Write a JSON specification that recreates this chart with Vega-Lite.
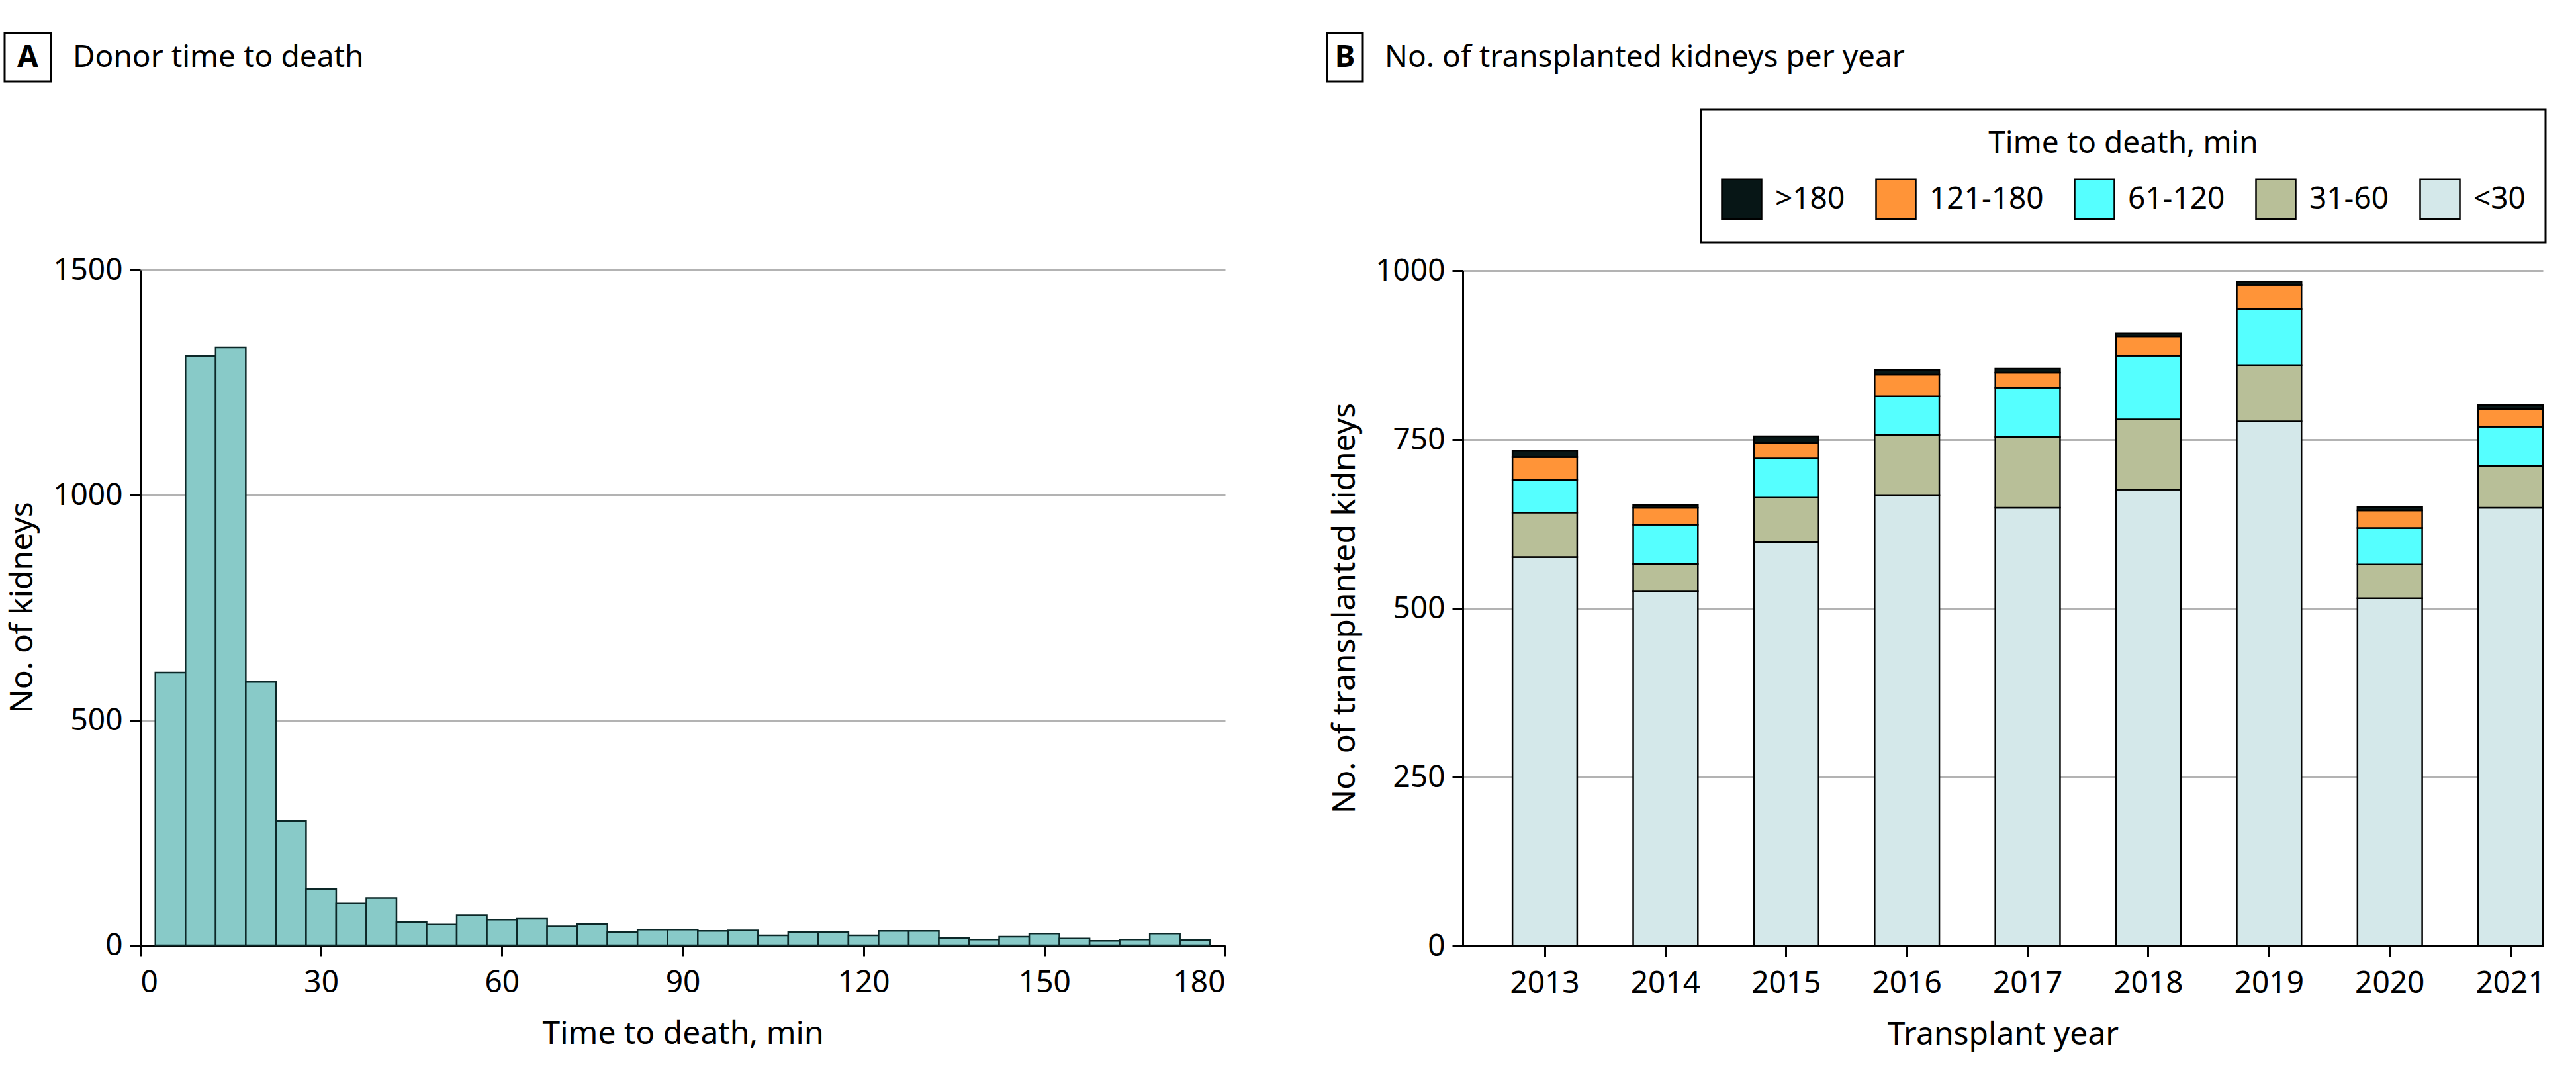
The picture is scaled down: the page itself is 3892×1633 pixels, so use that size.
{
  "$schema": "https://vega.github.io/schema/vega-lite/v6.json",
  "padding": {"left": 5, "top": 48, "right": 5, "bottom": 5},
  "background": "white",
  "config": {
    "font": "Noto Sans",
    "view": {"stroke": null},
    "axis": {
      "labelFont": "Noto Sans", "labelFontSize": 46, "labelColor": "black",
      "titleFont": "Noto Sans", "titleFontSize": 48, "titleFontWeight": "normal", "titleColor": "black",
      "domainColor": "black", "domainWidth": 3, "tickColor": "black", "tickWidth": 3, "tickSize": 16,
      "labelPadding": 11, "gridColor": "#b3b3b3", "gridWidth": 3, "grid": false
    },
    "axisX": {"labelPadding": 18}
  },
  "spacing": 150,
  "resolve": {"scale": {"color": "independent"}, "legend": {"color": "independent"}},
  "hconcat": [
    {
      "spacing": 260,
      "resolve": {"scale": {"color": "independent"}, "legend": {"color": "independent"}},
      "vconcat": [
        {
          "spacing": 26,
          "hconcat": [
            {
              "width": 70, "height": 73,
              "view": {"stroke": "black", "strokeWidth": 3},
              "data": {"values": [{"label": "A"}]},
              "mark": {"type": "text", "fontSize": 46, "fontWeight": "bold", "font": "Noto Sans", "color": "black", "baseline": "middle", "align": "center"},
              "encoding": {"text": {"field": "label", "type": "nominal"}}
            },
            {
              "width": 10, "height": 73,
              "data": {"values": [{"label": "Donor time to death"}]},
              "mark": {"type": "text", "fontSize": 46, "font": "Noto Sans", "color": "black", "baseline": "middle", "align": "left"},
              "encoding": {"text": {"field": "label", "type": "nominal"}}
            }
          ]
        },
        {
          "spacing": 16,
          "hconcat": [
            {
              "width": 56, "height": 1020,
              "data": {"values": [{"label": "No. of kidneys"}]},
              "mark": {"type": "text", "fontSize": 48, "font": "Noto Sans", "color": "black", "baseline": "middle", "align": "center", "angle": 270},
              "encoding": {"text": {"field": "label", "type": "nominal"}}
            },
            {
              "width": 1639, "height": 1020,
              "data": {"values": [
                {"start": 2.5, "end": 7.5, "count": 606},
                {"start": 7.5, "end": 12.5, "count": 1309},
                {"start": 12.5, "end": 17.5, "count": 1328},
                {"start": 17.5, "end": 22.5, "count": 585},
                {"start": 22.5, "end": 27.5, "count": 276},
                {"start": 27.5, "end": 32.5, "count": 125},
                {"start": 32.5, "end": 37.5, "count": 93},
                {"start": 37.5, "end": 42.5, "count": 105},
                {"start": 42.5, "end": 47.5, "count": 51},
                {"start": 47.5, "end": 52.5, "count": 46},
                {"start": 52.5, "end": 57.5, "count": 67},
                {"start": 57.5, "end": 62.5, "count": 57},
                {"start": 62.5, "end": 67.5, "count": 59},
                {"start": 67.5, "end": 72.5, "count": 42},
                {"start": 72.5, "end": 77.5, "count": 47},
                {"start": 77.5, "end": 82.5, "count": 29},
                {"start": 82.5, "end": 87.5, "count": 35},
                {"start": 87.5, "end": 92.5, "count": 35},
                {"start": 92.5, "end": 97.5, "count": 32},
                {"start": 97.5, "end": 102.5, "count": 33},
                {"start": 102.5, "end": 107.5, "count": 22},
                {"start": 107.5, "end": 112.5, "count": 29},
                {"start": 112.5, "end": 117.5, "count": 29},
                {"start": 117.5, "end": 122.5, "count": 22},
                {"start": 122.5, "end": 127.5, "count": 32},
                {"start": 127.5, "end": 132.5, "count": 32},
                {"start": 132.5, "end": 137.5, "count": 16},
                {"start": 137.5, "end": 142.5, "count": 13},
                {"start": 142.5, "end": 147.5, "count": 19},
                {"start": 147.5, "end": 152.5, "count": 26},
                {"start": 152.5, "end": 157.5, "count": 15},
                {"start": 157.5, "end": 162.5, "count": 10},
                {"start": 162.5, "end": 167.5, "count": 13},
                {"start": 167.5, "end": 172.5, "count": 26},
                {"start": 172.5, "end": 177.5, "count": 12}
              ]},
              "mark": {"type": "bar", "fill": "#88CAC8", "stroke": "#0c2828", "strokeWidth": 2.5},
              "encoding": {
                "x": {"field": "start", "type": "quantitative", "scale": {"domain": [0, 180], "nice": false, "zero": false},
                      "axis": {"values": [0, 30, 60, 90, 120, 150, 180], "title": "Time to death, min", "titlePadding": 31}},
                "x2": {"field": "end"},
                "y": {"field": "count", "type": "quantitative", "scale": {"domain": [0, 1500]},
                      "axis": {"values": [0, 500, 1000, 1500], "format": "d", "title": null, "grid": true}},
                "y2": {"datum": 0}
              }
            }
          ]
        }
      ]
    },
    {
      "spacing": 38,
      "resolve": {"scale": {"color": "independent"}, "legend": {"color": "independent"}},
      "vconcat": [
        {
          "spacing": 26,
          "hconcat": [
            {
              "width": 54, "height": 73,
              "view": {"stroke": "black", "strokeWidth": 3},
              "data": {"values": [{"label": "B"}]},
              "mark": {"type": "text", "fontSize": 46, "fontWeight": "bold", "font": "Noto Sans", "color": "black", "baseline": "middle", "align": "center"},
              "encoding": {"text": {"field": "label", "type": "nominal"}}
            },
            {
              "width": 10, "height": 73,
              "data": {"values": [{"label": "No. of transplanted kidneys per year"}]},
              "mark": {"type": "text", "fontSize": 46, "font": "Noto Sans", "color": "black", "baseline": "middle", "align": "left"},
              "encoding": {"text": {"field": "label", "type": "nominal"}}
            }
          ]
        },
        {
          "spacing": 16,
          "resolve": {"scale": {"color": "independent"}, "legend": {"color": "independent"}},
          "hconcat": [
            {
              "width": 56, "height": 1020,
              "data": {"values": [{"label": "No. of transplanted kidneys"}]},
              "mark": {"type": "text", "fontSize": 48, "font": "Noto Sans", "color": "black", "baseline": "middle", "align": "center", "angle": 270},
              "encoding": {"text": {"field": "label", "type": "nominal"}}
            },
            {
              "width": 1632, "height": 1020,
              "data": {"values": [
                {"year": "2013", "cat": "<30", "ord": 1, "n": 576},
                {"year": "2013", "cat": "31-60", "ord": 2, "n": 66},
                {"year": "2013", "cat": "61-120", "ord": 3, "n": 48},
                {"year": "2013", "cat": "121-180", "ord": 4, "n": 34},
                {"year": "2013", "cat": ">180", "ord": 5, "n": 9},
                {"year": "2014", "cat": "<30", "ord": 1, "n": 525},
                {"year": "2014", "cat": "31-60", "ord": 2, "n": 41},
                {"year": "2014", "cat": "61-120", "ord": 3, "n": 58},
                {"year": "2014", "cat": "121-180", "ord": 4, "n": 25},
                {"year": "2014", "cat": ">180", "ord": 5, "n": 4},
                {"year": "2015", "cat": "<30", "ord": 1, "n": 598},
                {"year": "2015", "cat": "31-60", "ord": 2, "n": 66},
                {"year": "2015", "cat": "61-120", "ord": 3, "n": 58},
                {"year": "2015", "cat": "121-180", "ord": 4, "n": 23},
                {"year": "2015", "cat": ">180", "ord": 5, "n": 10},
                {"year": "2016", "cat": "<30", "ord": 1, "n": 667},
                {"year": "2016", "cat": "31-60", "ord": 2, "n": 90},
                {"year": "2016", "cat": "61-120", "ord": 3, "n": 57},
                {"year": "2016", "cat": "121-180", "ord": 4, "n": 32},
                {"year": "2016", "cat": ">180", "ord": 5, "n": 7},
                {"year": "2017", "cat": "<30", "ord": 1, "n": 649},
                {"year": "2017", "cat": "31-60", "ord": 2, "n": 105},
                {"year": "2017", "cat": "61-120", "ord": 3, "n": 73},
                {"year": "2017", "cat": "121-180", "ord": 4, "n": 22},
                {"year": "2017", "cat": ">180", "ord": 5, "n": 6},
                {"year": "2018", "cat": "<30", "ord": 1, "n": 676},
                {"year": "2018", "cat": "31-60", "ord": 2, "n": 104},
                {"year": "2018", "cat": "61-120", "ord": 3, "n": 94},
                {"year": "2018", "cat": "121-180", "ord": 4, "n": 29},
                {"year": "2018", "cat": ">180", "ord": 5, "n": 4},
                {"year": "2019", "cat": "<30", "ord": 1, "n": 777},
                {"year": "2019", "cat": "31-60", "ord": 2, "n": 83},
                {"year": "2019", "cat": "61-120", "ord": 3, "n": 83},
                {"year": "2019", "cat": "121-180", "ord": 4, "n": 36},
                {"year": "2019", "cat": ">180", "ord": 5, "n": 5},
                {"year": "2020", "cat": "<30", "ord": 1, "n": 515},
                {"year": "2020", "cat": "31-60", "ord": 2, "n": 50},
                {"year": "2020", "cat": "61-120", "ord": 3, "n": 54},
                {"year": "2020", "cat": "121-180", "ord": 4, "n": 26},
                {"year": "2020", "cat": ">180", "ord": 5, "n": 5},
                {"year": "2021", "cat": "<30", "ord": 1, "n": 649},
                {"year": "2021", "cat": "31-60", "ord": 2, "n": 62},
                {"year": "2021", "cat": "61-120", "ord": 3, "n": 58},
                {"year": "2021", "cat": "121-180", "ord": 4, "n": 26},
                {"year": "2021", "cat": ">180", "ord": 5, "n": 6}
              ]},
              "mark": {"type": "bar", "stroke": "black", "strokeWidth": 2.5},
              "encoding": {
                "x": {"field": "year", "type": "ordinal", "scale": {"paddingInner": 0.464, "paddingOuter": 0.206, "align": 1},
                      "axis": {"title": "Transplant year", "labelAngle": 0, "titlePadding": 31}},
                "y": {"field": "n", "type": "quantitative", "stack": "zero", "scale": {"domain": [0, 1000]},
                      "axis": {"values": [0, 250, 500, 750, 1000], "format": "d", "title": null, "grid": true}},
                "color": {"field": "cat", "type": "nominal",
                          "scale": {"domain": [">180", "121-180", "61-120", "31-60", "<30"], "range": ["#071616", "#FF9438", "#55FFFF", "#B8BF98", "#D4E8EA"]},
                          "legend": {"title": "Time to death, min", "orient": "none", "legendX": 360, "legendY": -244, "direction": "horizontal",
                                     "titleAnchor": "middle", "titleFont": "Noto Sans", "titleFontSize": 46, "titleFontWeight": "normal", "titleColor": "black",
                                     "labelFont": "Noto Sans", "labelFontSize": 46, "labelColor": "black", "symbolType": "square", "symbolSize": 3600,
                                     "symbolStrokeColor": "black", "symbolStrokeWidth": 2.5, "symbolOpacity": 1, "labelOffset": 19, "columnPadding": 41,
                                     "padding": 30, "strokeColor": "black", "titlePadding": 28, "titleLimit": 0, "labelLimit": 0,
                                     "encode": {"legend": {"update": {"strokeWidth": {"value": 3}}}}}},
                "order": {"field": "ord", "type": "quantitative", "sort": "ascending"}
              }
            }
          ]
        }
      ]
    }
  ]
}
